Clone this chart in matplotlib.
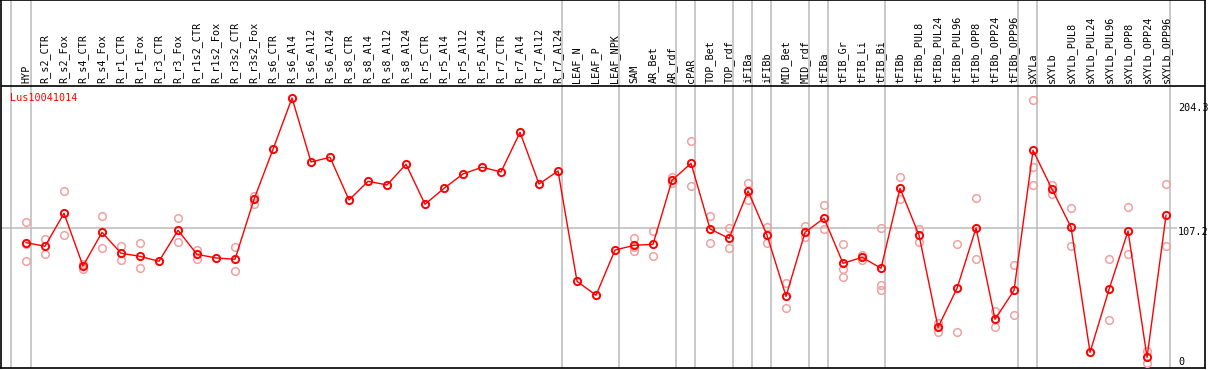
import matplotlib
matplotlib.use("Agg")
import matplotlib.pyplot as plt

gene = "Lus10041014"

samples = ["HYP", "R_s2_CTR", "R_s2_Fox", "R_s4_CTR", "R_s4_Fox", "R_r1_CTR", "R_r1_Fox",
           "R_r3_CTR", "R_r3_Fox", "R_r1s2_CTR", "R_r1s2_Fox", "R_r3s2_CTR", "R_r3s2_Fox",
           "R_s6_CTR", "R_s6_Al4", "R_s6_Al12", "R_s6_Al24", "R_s8_CTR", "R_s8_Al4",
           "R_s8_Al12", "R_s8_Al24", "R_r5_CTR", "R_r5_Al4", "R_r5_Al12", "R_r5_Al24",
           "R_r7_CTR", "R_r7_Al4", "R_r7_Al12", "R_r7_Al24", "LEAF_N", "LEAF_P", "LEAF_NPK",
           "SAM", "AR_Bet", "AR_rdf", "cPAR", "TOP_Bet", "TOP_rdf", "iFIBa", "iFIBb",
           "MID_Bet", "MID_rdf", "tFIBa", "tFIB_Gr", "tFIB_Li", "tFIB_Bi", "tFIBb",
           "tFIBb_PUL8", "tFIBb_PUL24", "tFIBb_PUL96", "tFIBb_OPP8", "tFIBb_OPP24",
           "tFIBb_OPP96", "sXYLa", "sXYLb", "sXYLb_PUL8", "sXYLb_PUL24", "sXYLb_PUL96",
           "sXYLb_OPP8", "sXYLb_OPP24", "sXYLb_OPP96"]

means = [96.5, 93.8, 118.4, 79.1, 104.2, 88.6, 86.3, 82.6, 105.7, 87.8, 85.1, 84.1, 128.8,
         166.1, 204.3, 156.6, 160.1, 128.3, 142.2, 139.5, 154.9, 125.1, 137.0, 147.7, 152.7,
         149.2, 178.7, 140.2, 149.9, 67.7, 57.3, 91.0,
         94.5, 95.3, 143.0, 155.6, 106.7, 99.7, 135.0, 102.0,
         56.5, 104.2, 114.7, 81.1, 85.6, 77.4, 137.0,
         102.0, 33.4, 62.5, 107.4, 39.4, 61.0,
         165.3, 136.3, 107.9, 14.8, 61.7, 105.2, 11.1, 116.9]

replicates = [[111.7, 95.2, 82.6], [99.2, 87.8], [135.0, 102.0], [80.6, 76.6], [116.1, 92.3],
              [94.0, 83.4], [96.0, 77.4], [], [114.7, 96.8], [91.0, 84.5], [], [93.0, 75.2],
              [131.3, 125.5],
              [], [], [], [], [], [], [], [], [], [], [], [], [], [], [], [],
              [], [], [],
              [100.0, 93.5, 90.3], [105.2, 86.6], [145.7, 140.7], [172.0, 138.5],
              [116.1, 96.0], [107.4, 92.3], [141.0, 128.1], [108.2, 96.0],
              [66.4, 47.6], [108.9, 100.5], [124.3, 106.5], [95.3, 76.6, 70.7],
              [87.3, 83.6], [107.4, 65.2, 61.0], [145.2, 128.8],
              [106.7, 96.8], [36.9, 29.7], [95.3, 29.9], [129.6, 84.1], [45.6, 33.4],
              [79.9, 42.4],
              [203.0, 152.9, 139.2], [139.2, 133.0], [122.1, 93.8], [], [84.1, 38.6],
              [122.8, 87.8], [16.0, 6.6], [140.0, 93.8]]

# group separators sit just after the last sample of each group
separators = [-0.79, 0.26, 28.23, 31.23, 34.23, 35.23, 37.23, 38.23, 39.23, 41.23,
              42.23, 45.23, 52.23, 53.23, 60.23]
scale_labels = ["204.3", "107.2", "0"]
scale_pos = [196.8, 104.4, 7.6]
ref_level = 107.2

W, H = 1209, 370
fig = plt.figure(figsize=(W / 100, H / 100), dpi=100)
ax = fig.add_axes([1 / W, 2 / H, 1204 / W, 368 / H])
ax.set_xlim(-1.316, 62.05)
ax.set_ylim(3.1, 277.3)
header = 213.2

for s in ax.spines.values():
    s.set_color("black")
    s.set_linewidth(1.2)
ax.set_xticks([])
ax.set_yticks([])

for sx in separators:
    ax.axvline(sx, color="#c0c0c0", lw=1.2, zorder=1)
ax.hlines(ref_level, -1.316, 60.58, color="#c0c0c0", lw=1.2, zorder=1)
ax.axhline(header, color="black", lw=1.2, zorder=2)

xs = range(len(samples))
for i, reps in enumerate(replicates):
    if reps:
        ax.plot([i] * len(reps), reps, "o", ms=5.5, mfc="none", mec="#f0a0a0",
                mew=1.1, zorder=3)

ax.plot(xs, means, "-", color="red", lw=1.0, zorder=4)
ax.plot(xs, means, "o", ms=5.2, mfc="none", mec="red", mew=1.4, zorder=5)

for i, name in enumerate(samples):
    ax.text(i, header + 2.2, name, rotation=90, ha="center", va="bottom",
            family="DejaVu Sans Mono", fontsize=7.3, color="black")

ax.text(-0.842, 204.5, gene, ha="left", va="center", family="DejaVu Sans Mono",
        fontsize=7.3, color="red")

for lab, y in zip(scale_labels, scale_pos):
    ax.text(60.63, y, lab, ha="left", va="center", family="DejaVu Sans Mono",
            fontsize=7.3, color="black")

fig.savefig("out.png", dpi=100)
